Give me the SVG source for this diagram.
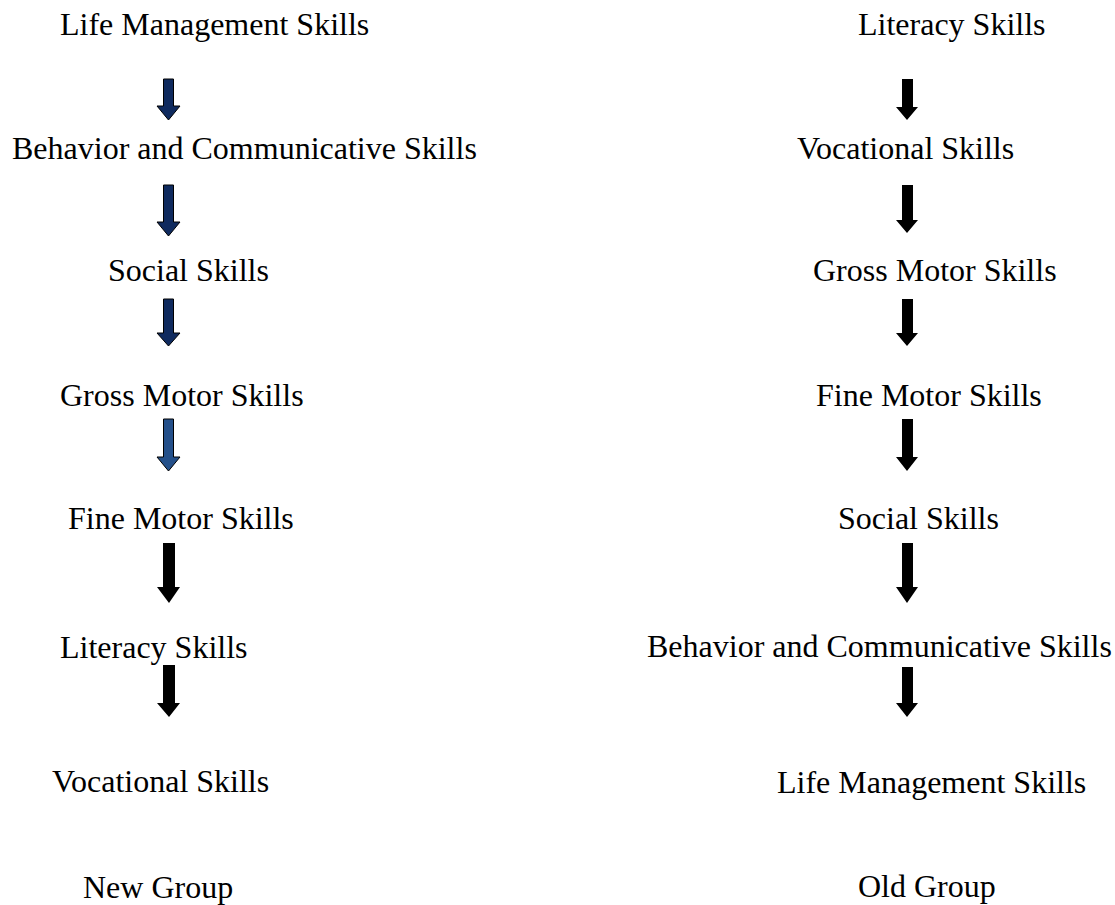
<svg xmlns="http://www.w3.org/2000/svg" width="1115" height="905" viewBox="0 0 1115 905">
<style>
text{font-family:"Liberation Serif","Times New Roman",serif;font-size:32px;fill:#000}
.navy{fill:#0f2a5e;stroke:#000;stroke-width:1}
.blue{fill:#24508a;stroke:#000;stroke-width:1}
.blk{fill:#000}
</style>
<rect width="1115" height="905" fill="#fff"/>
<g id="left-column">
<g id="l1"><text x="60" y="35">Life Management Skills</text></g>
<g id="l2"><text x="12" y="159">Behavior and Communicative Skills</text></g>
<g id="l3"><text x="108" y="281">Social Skills</text></g>
<g id="l4"><text x="60" y="406">Gross Motor Skills</text></g>
<g id="l5"><text x="68" y="529">Fine Motor Skills</text></g>
<g id="l6"><text x="60" y="658">Literacy Skills</text></g>
<g id="l7"><text x="52" y="792">Vocational Skills</text></g>
<g id="l8"><text x="83" y="898">New Group</text></g>
</g>
<g id="right-column">
<g id="r1"><text x="858" y="35">Literacy Skills</text></g>
<g id="r2"><text x="797" y="159">Vocational Skills</text></g>
<g id="r3"><text x="813" y="281">Gross Motor Skills</text></g>
<g id="r4"><text x="816" y="406">Fine Motor Skills</text></g>
<g id="r5"><text x="838" y="529">Social Skills</text></g>
<g id="r6"><text x="647" y="657">Behavior and Communicative Skills</text></g>
<g id="r7"><text x="777" y="793">Life Management Skills</text></g>
<g id="r8"><text x="858" y="897">Old Group</text></g>
</g>
<g id="connectors">
<path class="navy" d="M163.5,79 H173.5 V106 H180 L168.5,120 L157,106 H163.5 Z"/>
<path class="navy" d="M163.5,185 H173.5 V222 H180 L168.5,236 L157,222 H163.5 Z"/>
<path class="navy" d="M163.5,299 H173.5 V333 H180 L168.5,346 L157,333 H163.5 Z"/>
<path class="blue" d="M163.5,419 H173.5 V457 H180 L168.5,471 L157,457 H163.5 Z"/>
<path class="blk" d="M163,543 H175 V587 H180 L169,603 L157,587 H163 Z"/>
<path class="blk" d="M163,665 H175 V703 H180 L169,717 L157,703 H163 Z"/>
<path class="blk" d="M902,79 H913 V107 H918 L907,120 L896,107 H902 Z"/>
<path class="blk" d="M902,185 H913 V220 H918 L907,233 L896,220 H902 Z"/>
<path class="blk" d="M902,299 H913 V333 H918 L907,346 L896,333 H902 Z"/>
<path class="blk" d="M902,419 H913 V457 H918 L907,471 L896,457 H902 Z"/>
<path class="blk" d="M902,543 H913 V587 H918 L907,603 L896,587 H902 Z"/>
<path class="blk" d="M902,667 H913 V703 H918 L907,717 L896,703 H902 Z"/>
</g>
</svg>
